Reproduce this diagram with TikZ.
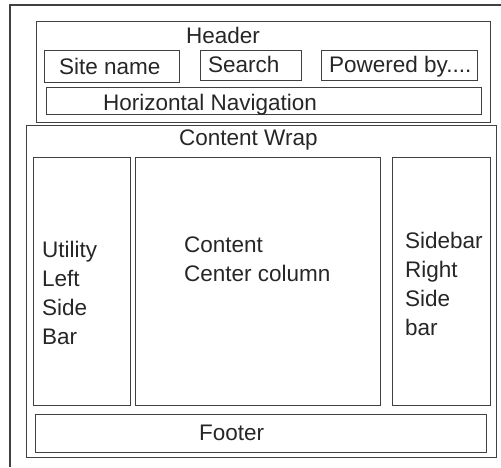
\documentclass[tikz,border=0pt]{standalone}
\usepackage{fontspec}
\setmainfont{Liberation Sans}
\begin{document}
\begin{tikzpicture}[x=1pt,y=-1pt,
  box/.style={draw=black!75, line width=1.3pt, fill=none, inner sep=0pt, anchor=north west},
  lbl/.style={inner sep=0pt, anchor=base west, text=black!85, font=\fontsize{22.5}{29}\selectfont, align=left}]
\useasboundingbox (0,0) rectangle (501,467);
% outer frame (cropped at right and bottom)
\coordinate (ftr) at (501,5);
\coordinate (ftl) at (10,5);
\coordinate (fbl) at (10,467);
\draw[black!75, line width=1.3pt] (ftr) -- (ftl) -- (fbl);
% header
\node[box, minimum width=454, minimum height=101] (header) at (36,21) {};
\node[box, minimum width=135, minimum height=32] (site) at (44,50) {};
\node[box, minimum width=101, minimum height=30] (search) at (200,50) {};
\node[box, minimum width=156, minimum height=30] (powered) at (321,50) {};
\node[box, minimum width=435, minimum height=27] (hnav) at (46,87) {};
\node[lbl] (theader) at (186,43) {Header};
\node[lbl] (tsite) at (59,74) {Site name};
\node[lbl] (tsearch) at (208,72) {Search};
\node[lbl] (tpowered) at (329,72) {Powered by....};
\node[lbl] (thnav) at (103,110) {Horizontal Navigation};
% content wrap
\node[box, minimum width=470, minimum height=332] (wrap) at (26,125) {};
\node[lbl] (twrap) at (179,145) {Content Wrap};
\node[box, minimum width=97, minimum height=248] (left) at (33,157) {};
\node[box, minimum width=245, minimum height=248] (center) at (135,157) {};
\node[box, minimum width=98, minimum height=248] (right) at (392,157) {};
\node[box, minimum width=451, minimum height=38] (footer) at (35,414) {};
\node[lbl] (tleft) at (42,344) {Utility\\Left\\Side\\Bar};
\node[lbl] (tcenter) at (184,281) {Content\\Center column};
\node[lbl] (tright) at (405,335) {Sidebar\\Right\\Side\\bar};
\node[lbl] (tfooter) at (199,440) {Footer};
\end{tikzpicture}
\end{document}
